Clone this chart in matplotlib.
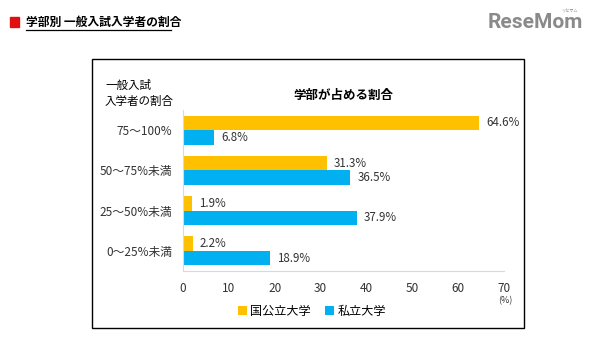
import matplotlib.pyplot as plt
from matplotlib.patches import Rectangle
from matplotlib.lines import Line2D

plt.rcParams['font.family'] = ['Noto Sans CJK JP', 'DejaVu Sans']

categories = ['75～100%', '50～75%未満', '25～50%未満', '0～25%未満']
public_vals = [64.6, 31.3, 1.9, 2.2]
private_vals = [6.8, 36.5, 37.9, 18.9]
series_names = ['国公立大学', '私立大学']
xticks = [0, 10, 20, 30, 40, 50, 60, 70]

GOLD = '#FFC000'
BLUE = '#00B0F0'
W, H = 595, 345

fig = plt.figure(figsize=(W / 100, H / 100), dpi=100)


def fx(px):
    return px / W


def fy(py):
    return 1 - py / H


# outer frame
fig.patches.append(Rectangle((fx(92), fy(328)), fx(524) - fx(92), fy(59) - fy(328),
                             transform=fig.transFigure, fill=False, edgecolor='black', lw=1))

# page header
fig.patches.append(Rectangle((fx(10), fy(27)), fx(9), fy(17) - fy(27),
                             transform=fig.transFigure, color='#E01010'))
fig.text(fx(26), fy(22), '学部別 一般入試入学者の割合', fontsize=8.5, fontweight='bold',
         va='center', ha='left')
fig.lines.append(Line2D([fx(26), fx(171)], [fy(30), fy(30)], transform=fig.transFigure,
                        color='black', lw=0.9))
fig.text(fx(583), fy(23), 'ReseMom', fontsize=15, fontweight='bold', color='#8a8a8a',
         family='Roboto', va='center', ha='right')
fig.text(fx(578), fy(11), 'リセマム', fontsize=3, color='#8a8a8a', va='center', ha='right')

ax = fig.add_axes([fx(183), fy(271), fx(504) - fx(183), fy(110) - fy(271)])

ypos = list(range(len(categories)))[::-1]
bh = 0.36
ax.barh([y + bh / 2 for y in ypos], public_vals, height=bh, color=GOLD, label=series_names[0])
ax.barh([y - bh / 2 for y in ypos], private_vals, height=bh, color=BLUE, label=series_names[1])

for y, v in zip(ypos, public_vals):
    ax.annotate(f'{v:.1f}%', (v, y + bh / 2), xytext=(5, 0), textcoords='offset points',
                va='center', ha='left', fontsize=8.3, color='#333333')
for y, v in zip(ypos, private_vals):
    ax.annotate(f'{v:.1f}%', (v, y - bh / 2), xytext=(5, 0), textcoords='offset points',
                va='center', ha='left', fontsize=8.3, color='#333333')

ax.set_xlim(0, 70)
ax.set_ylim(-0.5, len(categories) - 0.5)
ax.set_xticks(xticks)
ax.set_yticks(ypos)
ax.set_yticklabels(categories)
ax.tick_params(axis='both', length=0, labelsize=8.5, colors='#333333')
ax.tick_params(axis='x', pad=8)
ax.tick_params(axis='y', pad=8)
for s in ['top', 'right']:
    ax.spines[s].set_visible(False)
for s in ['left', 'bottom']:
    ax.spines[s].set_color('#d9d9d9')

ax.set_title('学部が占める割合', fontsize=9, fontweight='bold', pad=8)
fig.text(fx(105), fy(85), '一般入試', fontsize=8.3, va='center', ha='left')
fig.text(fx(105), fy(101), '入学者の割合', fontsize=8.3, va='center', ha='left')
fig.text(fx(505), fy(301), '(%)', fontsize=6.5, va='center', ha='center', color='#333333')

fig.legend(loc='center', bbox_to_anchor=(fx(312), fy(311)), ncol=2, frameon=False,
           fontsize=8.7, handlelength=0.7, handleheight=0.7, handletextpad=0.3,
           columnspacing=1.2)

fig.savefig('out.png', dpi=100)
